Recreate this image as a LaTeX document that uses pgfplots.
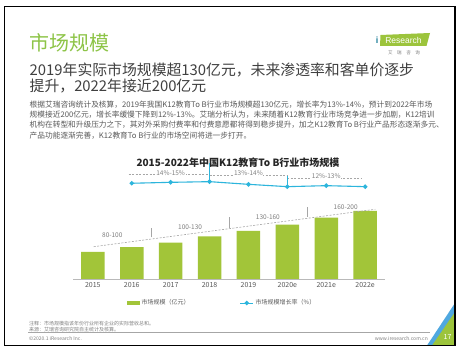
\documentclass[border=0pt]{standalone}
\usepackage{pgfplots}
\pgfplotsset{compat=1.18}
\usepackage{fontspec}
\setmainfont{Noto Sans CJK SC}
\newfontfamily\arialf{Liberation Sans}
\definecolor{barg}{HTML}{A2C539}
\definecolor{lineb}{HTML}{2CB5DC}
\definecolor{titleg}{HTML}{8DC447}
\definecolor{txtd}{HTML}{404040}
\definecolor{txtg}{HTML}{595959}
\definecolor{annog}{HTML}{808080}
\definecolor{dashg}{HTML}{A6A6A6}
\definecolor{logog}{HTML}{9CC43C}
\definecolor{cornerb}{HTML}{4FA8E0}
\newcommand{\fs}[1]{\fontsize{#1}{#1}\selectfont}
\begin{document}
\begin{tikzpicture}
\fill[white] (0pt,0pt) rectangle (460pt,352pt);
% corner decoration
\fill[cornerb] (455pt,49pt) -- (455pt,6.5pt) -- (427pt,6.5pt) -- cycle;
\fill[logog] (455pt,40pt) -- (455pt,6.5pt) -- (432pt,6.5pt) -- cycle;
\node[anchor=center, inner sep=0, text=white] at (447.5pt,15pt) {\fs{7}17};
% frame
\draw[black, line width=1.3pt] (4.5pt,6.5pt) rectangle (455pt,345.5pt);
% title
\node[anchor=west, inner sep=0, text=titleg] at (29pt,308.7pt) {\fs{20}市场规模};
% logo
\fill[logog] (380pt,306pt) -- (380.5pt,317pt) -- (430pt,319pt) -- (426.5pt,306pt) -- cycle;
\node[anchor=center, inner sep=0, text=white] at (403.5pt,311.5pt) {\arialf\fontsize{8.5}{9}\selectfont Research};
\node[anchor=center, inner sep=0, text=lineb!70!black] at (377pt,312pt) {\arialf\fontsize{9}{9}\selectfont\bfseries i};
\node[anchor=center, inner sep=0, text=annog] at (404pt,298.7pt) {\fs{4.5}艾\hspace{4.6pt}瑞\hspace{4.6pt}咨\hspace{4.6pt}询};
% subtitle
\node[anchor=west, inner sep=0, text=txtd] at (29.5pt,282.5pt) {\fs{14.85}2019年实际市场规模超130亿元，未来渗透率和客单价逐步};
\node[anchor=west, inner sep=0, text=txtd] at (29.5pt,265.5pt) {\fs{14.85}提升，2022年接近200亿元};
% body
\node[anchor=west, inner sep=0, text=txtg] at (29.5pt,247pt) {\fs{7.7}根据艾瑞咨询统计及核算，2019年我国K12教育To B行业市场规模超130亿元，增长率为13\%-14\%，预计到2022年市场};
\node[anchor=west, inner sep=0, text=txtg] at (29.5pt,237pt) {\fs{7.7}规模接近200亿元，增长率缓慢下降到12\%-13\%。艾瑞分析认为，未来随着K12教育行业市场竞争进一步加剧，K12培训};
\node[anchor=west, inner sep=0, text=txtg] at (29.5pt,227pt) {\fs{7.7}机构在转型和升级压力之下，其对外采购付费率和付费意愿都将得到稳步提升，加之K12教育To B行业产品形态逐渐多元、};
\node[anchor=west, inner sep=0, text=txtg] at (29.5pt,216.3pt) {\fs{7.7}产品功能逐渐完善，K12教育To B行业的市场空间将进一步打开。};
% chart title
\node[anchor=center, inner sep=0, text=black!85] at (238pt,189.3pt) {\fs{10}\bfseries 2015-2022年中国K12教育To B行业市场规模};
% footer
\node[anchor=west, inner sep=0, text=annog] at (29pt,28pt) {\fs{5}注释：市场规模指该年份行业所有企业的实际营收总和。};
\node[anchor=west, inner sep=0, text=annog] at (29pt,22.5pt) {\fs{5}来源：艾瑞咨询研究院自主统计及核算。};
\draw[gray!70, line width=0.4pt] (28pt,20pt) -- (430pt,20pt);
\node[anchor=west, inner sep=0, text=annog] at (29pt,13.5pt) {\fs{5}©2020.1 iResearch Inc.};
\node[anchor=east, inner sep=0, text=annog] at (428pt,13.5pt) {\fs{5}www.iresearch.com.cn};
% bar axis
\begin{axis}[
  at={(73.4pt,73pt)}, anchor=south west,
  scale only axis, width=311.2pt, height=84pt,
  xmin=-0.5, xmax=7.5, ymin=0, ymax=235.2,
  axis y line=none, axis x line=bottom,
  x axis line style={-, draw=gray!55, line width=0.6pt},
  xtick={0,1,2,3,4,5,6,7},
  xticklabels={2015,2016,2017,2018,2019,2020e,2021e,2022e},
  major tick length=0pt,
  xticklabel style={font=\fs{7}, text=txtg},
  /pgf/number format/assume math mode=true,
  ybar, bar width=23.5pt,
  clip=false,
  legend columns=2,
  legend cell align=left,
  legend style={at={(0.4775,-0.286)}, anchor=center, draw=none, fill=none,
    font=\fs{6}, text=txtg,
    /tikz/every even column/.append style={column sep=48pt}},
]
\addplot[fill=barg, draw=none,
  legend image code/.code={\fill[barg] (0pt,-2pt) rectangle (13pt,2pt);}]
  coordinates {(0,76) (1,89) (2,102) (3,119) (4,135) (5,152) (6,172) (7,191)};
\addlegendentry{市场规模（亿元）}
\addlegendimage{lineb, line width=1pt,
  legend image code/.code={\draw[lineb,line width=1pt] (0pt,0pt) -- (13pt,0pt); \fill[lineb] (6.5pt,0pt) circle (1.6pt);}}
\addlegendentry{市场规模增长率（\%）}
\draw[dashg, dash pattern=on 2pt off 1.5pt, line width=0.6pt] (axis cs:0.02,90.4) -- (axis cs:7.26,195.2);
\draw[dashg, line width=0.5pt] (axis cs:1.5,116.8) -- (axis cs:1.5,142);
\draw[dashg, line width=0.5pt] (axis cs:3.5,142) -- (axis cs:3.5,174.4);
\draw[dashg, line width=0.5pt] (axis cs:5.5,174.4) -- (axis cs:5.5,202.4);
\node[font=\fs{6.5}, text=annog, inner sep=0] at (axis cs:0.5,123.2) {80-100};
\node[font=\fs{6.5}, text=annog, inner sep=0] at (axis cs:2.5,146.4) {100-130};
\node[font=\fs{6.5}, text=annog, inner sep=0] at (axis cs:4.5,174.4) {130-160};
\node[font=\fs{6.5}, text=annog, inner sep=0] at (axis cs:6.5,202.4) {160-200};
\end{axis}
% growth-rate axis
\begin{axis}[
  at={(73.4pt,73pt)}, anchor=south west,
  scale only axis, width=311.2pt, height=119pt,
  xmin=-0.5, xmax=7.5, ymin=0, ymax=17.85,
  hide axis, clip=false,
]
\draw[dashg, dash pattern=on 2pt off 1.5pt, line width=0.6pt] (axis cs:0.92,15.7) -- (axis cs:3,15.7);
\draw[dashg, dash pattern=on 2pt off 1.5pt, line width=0.6pt] (axis cs:3,15.6) -- (axis cs:5,15.6);
\draw[dashg, dash pattern=on 2pt off 1.5pt, line width=0.6pt] (axis cs:5,15.15) -- (axis cs:6.93,15.15);
\node[font=\fs{6.5}, text=annog, fill=white, inner sep=0.6pt] at (axis cs:2,15.95) {14\%-15\%};
\node[font=\fs{6.5}, text=annog, fill=white, inner sep=0.6pt] at (axis cs:4,15.85) {13\%-14\%};
\node[font=\fs{6.5}, text=annog, fill=white, inner sep=0.6pt] at (axis cs:6,15.5) {12\%-13\%};
\draw[lineb, line width=0.6pt] (axis cs:3,17.4) -- (axis cs:3,14.6);
\draw[lineb, line width=0.6pt] (axis cs:5,15.45) -- (axis cs:5,13.85);
\addplot[lineb, line width=1.1pt, mark=*, mark size=1.7pt, mark options={fill=lineb, draw=lineb}]
  coordinates {(1,14.36) (2,14.5) (3,14.6) (4,14.2) (5,13.85) (6,14.0) (7,13.85)};
\end{axis}
\pgfresetboundingbox
\useasboundingbox (0pt,0pt) rectangle (460pt,352pt);
\end{tikzpicture}
\end{document}
